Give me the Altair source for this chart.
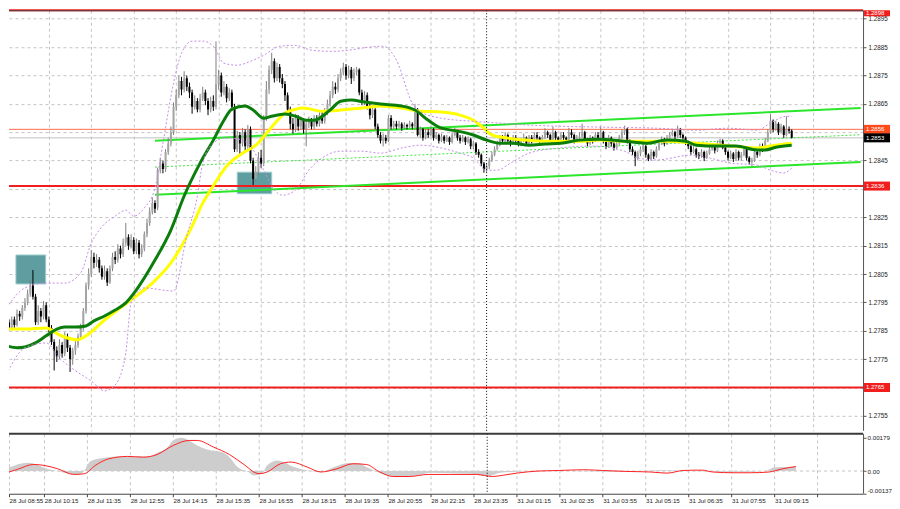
import json
import altair as alt
import pandas as pd

# ---------------- data ----------------
bar_open = [
    1.2787, 1.2788, 1.2786, 1.2789, 1.2787, 1.2791, 1.2790, 1.2793, 1.2795, 1.2798, 1.2801, 1.2797, 1.2788, 1.2792, 1.2790, 1.2794,
    1.2789, 1.2786, 1.2781, 1.2778, 1.2776, 1.2780, 1.2777, 1.2783, 1.2779, 1.2775, 1.2778, 1.2780, 1.2783, 1.2786, 1.2792, 1.2801,
    1.2805, 1.2811, 1.2809, 1.2810, 1.2807, 1.2804, 1.2806, 1.2802, 1.2807, 1.2811, 1.2810, 1.2814, 1.2812, 1.2816, 1.2818, 1.2815,
    1.2817, 1.2813, 1.2816, 1.2812, 1.2814, 1.2819, 1.2823, 1.2827, 1.2830, 1.28285, 1.28416, 1.2844, 1.2842, 1.2848, 1.2851, 1.2855,
    1.2864, 1.2868, 1.2873, 1.2870, 1.2874, 1.2871, 1.2869, 1.2864, 1.2866, 1.2863, 1.2867, 1.2869, 1.2866, 1.2863, 1.2866, 1.2864,
    1.2872, 1.2875, 1.2869, 1.2871, 1.2867, 1.2869, 1.2864, 1.2849, 1.2854, 1.2851, 1.2855, 1.2850, 1.2856, 1.2845, 1.28385, 1.2841,
    1.2846, 1.2844, 1.2860, 1.2870, 1.2877, 1.2880, 1.2874, 1.2878, 1.2874, 1.2872, 1.2868, 1.2863, 1.2858, 1.2856, 1.2860, 1.2857,
    1.2859, 1.2856, 1.2858, 1.2859, 1.2857, 1.2860, 1.2858, 1.2861, 1.2859, 1.2862, 1.2865, 1.2868, 1.2871, 1.2870, 1.2874, 1.2876,
    1.2878, 1.2875, 1.2877, 1.2874, 1.2876, 1.2877, 1.2869, 1.2866, 1.2868, 1.2864, 1.2861, 1.2863, 1.2857, 1.2854, 1.2852, 1.2853,
    1.2852, 1.2860, 1.2857, 1.2858, 1.2857, 1.2858, 1.28565, 1.28575, 1.2857, 1.2858, 1.2857, 1.2863, 1.2854, 1.2856, 1.2853, 1.2855,
    1.2854, 1.2856, 1.2853, 1.2854, 1.2852, 1.28535, 1.2852, 1.2853, 1.28515, 1.2854, 1.2855, 1.2853, 1.2852, 1.2853, 1.28515, 1.28525,
    1.2850, 1.2851, 1.2848, 1.2847, 1.2844, 1.2842, 1.2843, 1.2845, 1.2847, 1.2849, 1.2851, 1.2853, 1.2852, 1.2854, 1.2852, 1.2851,
    1.2853, 1.2852, 1.28505, 1.2852, 1.2853, 1.2851, 1.2853, 1.2852, 1.2854, 1.2853, 1.28515, 1.2853, 1.2855, 1.2854, 1.2852, 1.2855,
    1.2853, 1.2852, 1.2854, 1.2853, 1.2852, 1.2855, 1.2854, 1.2852, 1.2853, 1.28535, 1.2855, 1.2852, 1.2851, 1.2853, 1.2852, 1.2854,
    1.2853, 1.2855, 1.2852, 1.2850, 1.2853, 1.2851, 1.28495, 1.2851, 1.2853, 1.2855, 1.2856, 1.2852, 1.2849, 1.2848, 1.2846, 1.28475,
    1.2849, 1.2850, 1.2847, 1.28455, 1.2848, 1.28465, 1.2849, 1.2851, 1.28525, 1.2851, 1.2853, 1.2854, 1.2855, 1.28535, 1.2856, 1.2854,
    1.2853, 1.28515, 1.2850, 1.2848, 1.2849, 1.2847, 1.28465, 1.2848, 1.2846, 1.28475, 1.2849, 1.2850, 1.28485, 1.2851, 1.2852, 1.28495,
    1.2848, 1.2846, 1.28475, 1.28455, 1.2848, 1.2846, 1.2847, 1.2849, 1.2846, 1.28445, 1.2845, 1.2848, 1.2847, 1.2850, 1.2849, 1.2852,
    1.2855, 1.2859, 1.2856, 1.2858, 1.2855, 1.2857, 1.2854, 1.2856, 1.28555,
]
bar_high = [
    1.27895, 1.2789, 1.2790, 1.2790, 1.27925, 1.2792, 1.2794, 1.27965, 1.27995, 1.2803, 1.28064, 1.2798, 1.2794, 1.2793, 1.27955, 1.2795,
    1.2790, 1.2787, 1.2782, 1.27795, 1.2782, 1.2781, 1.27845, 1.2784, 1.2780, 1.2779, 1.27815, 1.2784, 1.27875, 1.2793, 1.2802, 1.2807,
    1.28135, 1.28125, 1.2812, 1.2811, 1.2808, 1.2808, 1.2807, 1.2808, 1.28125, 1.2813, 1.28155, 1.2815, 1.28175, 1.2823, 1.2819, 1.2819,
    1.2818, 1.28175, 1.2817, 1.28155, 1.2820, 1.28245, 1.28285, 1.2832, 1.2831, 1.28425, 1.2846, 1.2845, 1.2849, 1.2853, 1.2857, 1.28655,
    1.2870, 1.2875, 1.28745, 1.28765, 1.2875, 1.28725, 1.2870, 1.2868, 1.2867, 1.28685, 1.2871, 1.2870, 1.2867, 1.28675, 1.2868, 1.2887,
    1.2877, 1.2876, 1.2873, 1.2872, 1.28705, 1.2870, 1.2865, 1.28555, 1.2855, 1.28565, 1.2856, 1.28575, 1.2857, 1.2846, 1.2843, 1.2848,
    1.28487, 1.2861, 1.2873, 1.28785, 1.2883, 1.2881, 1.28795, 1.2879, 1.28755, 1.2873, 1.2869, 1.2864, 1.2860, 1.28615, 1.2861, 1.28605,
    1.2860, 1.2859, 1.28605, 1.2860, 1.2861, 1.2861, 1.2862, 1.28625, 1.28635, 1.28665, 1.28695, 1.2873, 1.28725, 1.28755, 1.28775, 1.28795,
    1.2879, 1.28785, 1.2878, 1.28775, 1.2878, 1.28775, 1.2870, 1.28695, 1.2869, 1.2865, 1.28645, 1.28635, 1.2858, 1.2855, 1.28545, 1.2854,
    1.2861, 1.2861, 1.2859, 1.2859, 1.2859, 1.28585, 1.28585, 1.2858, 1.2859, 1.28585, 1.2865, 1.28635, 1.2857, 1.28565, 1.2856, 1.2856,
    1.2857, 1.28565, 1.2855, 1.28545, 1.28545, 1.2854, 1.2854, 1.28535, 1.2855, 1.28565, 1.28555, 1.2854, 1.2854, 1.28535, 1.28535, 1.2853,
    1.2852, 1.28515, 1.2849, 1.28475, 1.28445, 1.2844, 1.2846, 1.2848, 1.2850, 1.2852, 1.2854, 1.2854, 1.2855, 1.28545, 1.2853, 1.2854,
    1.2854, 1.28525, 1.2853, 1.28545, 1.28535, 1.2854, 1.2854, 1.2855, 1.2855, 1.28535, 1.2854, 1.28564, 1.28555, 1.28545, 1.2857, 1.28555,
    1.28535, 1.2855, 1.2855, 1.28535, 1.28565, 1.2856, 1.28545, 1.2854, 1.2855, 1.2858, 1.28555, 1.2853, 1.2854, 1.28535, 1.2855, 1.2855,
    1.2857, 1.28555, 1.28525, 1.2854, 1.28535, 1.28515, 1.2852, 1.2854, 1.2856, 1.28573, 1.28565, 1.28525, 1.2850, 1.28485, 1.28485, 1.2850,
    1.2851, 1.28505, 1.28475, 1.2849, 1.28485, 1.2850, 1.2852, 1.28535, 1.2853, 1.2854, 1.2855, 1.2856, 1.28555, 1.28573, 1.28565, 1.28545,
    1.28535, 1.2852, 1.28505, 1.2850, 1.28495, 1.2848, 1.2849, 1.28485, 1.28485, 1.2850, 1.2851, 1.28505, 1.2852, 1.28527, 1.28525, 1.2850,
    1.28485, 1.28485, 1.2848, 1.2849, 1.28485, 1.2848, 1.2850, 1.28495, 1.28465, 1.2846, 1.2849, 1.28485, 1.2851, 1.2851, 1.2853, 1.2856,
    1.28613, 1.28595, 1.2859, 1.28585, 1.2858, 1.28575, 1.28606, 1.2857, 1.2856,
]
bar_low = [
    1.27855, 1.2785, 1.27855, 1.2786, 1.27865, 1.27885, 1.2789, 1.2792, 1.2794, 1.2797, 1.2796, 1.2787, 1.2787, 1.2788, 1.2789, 1.2788,
    1.27845, 1.2780, 1.2771, 1.2774, 1.2775, 1.27755, 1.2776, 1.27775, 1.27705, 1.2773, 1.27765, 1.2779, 1.2782, 1.2785, 1.2791, 1.27995,
    1.2804, 1.2807, 1.28075, 1.28055, 1.2803, 1.2803, 1.28008, 1.28015, 1.2806, 1.28085, 1.2809, 1.28105, 1.2811, 1.2815, 1.28135, 1.2814,
    1.2812, 1.2812, 1.28105, 1.2811, 1.2813, 1.2818, 1.2822, 1.2826, 1.28265, 1.28275, 1.28405, 1.28405, 1.2841, 1.2847, 1.2850, 1.2854,
    1.28625, 1.2867, 1.2868, 1.2869, 1.28695, 1.2867, 1.28615, 1.2863, 1.2862, 1.2862, 1.2866, 1.28645, 1.2861, 1.2862, 1.28625, 1.2863,
    1.2870, 1.28675, 1.2868, 1.28655, 1.2866, 1.28625, 1.2848, 1.2848, 1.28466, 1.2850, 1.28485, 1.2849, 1.2844, 1.28364, 1.28375, 1.2840,
    1.28425, 1.2843, 1.2859, 1.28685, 1.28755, 1.28725, 1.2873, 1.28725, 1.28705, 1.2866, 1.28615, 1.2856, 1.28545, 1.2855, 1.28555, 1.2856,
    1.28545, 1.2850, 1.28565, 1.2856, 1.2856, 1.2857, 1.2857, 1.2858, 1.2858, 1.2861, 1.2864, 1.2867, 1.28685, 1.2869, 1.2873, 1.2875,
    1.28735, 1.2874, 1.2872, 1.2873, 1.2875, 1.2868, 1.28645, 1.28645, 1.2863, 1.28595, 1.2860, 1.2856, 1.2853, 1.2851, 1.2850, 1.2851,
    1.28515, 1.2856, 1.2856, 1.2856, 1.28565, 1.28555, 1.2856, 1.2856, 1.28565, 1.2856, 1.28565, 1.28535, 1.2853, 1.2852, 1.28525, 1.2853,
    1.28535, 1.2852, 1.28525, 1.2851, 1.28515, 1.2851, 1.28515, 1.28505, 1.2851, 1.28535, 1.2852, 1.2851, 1.28515, 1.28505, 1.2851, 1.2849,
    1.2849, 1.2847, 1.2846, 1.2843, 1.28407, 1.2841, 1.2842, 1.28445, 1.28465, 1.28485, 1.2850, 1.2851, 1.28515, 1.2851, 1.2850, 1.28505,
    1.2851, 1.2850, 1.2850, 1.28515, 1.28505, 1.28505, 1.2851, 1.28515, 1.2852, 1.2851, 1.2851, 1.28525, 1.2853, 1.28515, 1.28515, 1.2852,
    1.2851, 1.28515, 1.2852, 1.2851, 1.28515, 1.2853, 1.2851, 1.28515, 1.2852, 1.2853, 1.28515, 1.2850, 1.28505, 1.2851, 1.28515, 1.2852,
    1.28525, 1.2851, 1.2849, 1.28495, 1.2850, 1.28485, 1.2849, 1.28505, 1.28525, 1.2854, 1.2851, 1.2848, 1.2847, 1.2843, 1.2845, 1.28465,
    1.2848, 1.2846, 1.28448, 1.2845, 1.28455, 1.2846, 1.28485, 1.28505, 1.2850, 1.28505, 1.28525, 1.28535, 1.28525, 1.2853, 1.2853, 1.2852,
    1.28505, 1.2849, 1.2847, 1.28475, 1.2846, 1.28455, 1.2846, 1.28448, 1.28455, 1.2847, 1.28485, 1.28475, 1.2848, 1.28505, 1.2849, 1.2847,
    1.2845, 1.28455, 1.28445, 1.2845, 1.2845, 1.2845, 1.28465, 1.2845, 1.28435, 1.2843, 1.28445, 1.2846, 1.28465, 1.2848, 1.28485, 1.28515,
    1.28545, 1.2855, 1.28555, 1.2854, 1.28545, 1.2853, 1.28535, 1.28545, 1.28528,
]
bar_close = [
    1.2788, 1.2786, 1.2789, 1.2787, 1.2791, 1.2790, 1.2793, 1.2795, 1.2798, 1.2801, 1.2797, 1.2788, 1.2792, 1.2790, 1.2794, 1.2789,
    1.2786, 1.2781, 1.2778, 1.2776, 1.2780, 1.2777, 1.2783, 1.2779, 1.2775, 1.2778, 1.2780, 1.2783, 1.2786, 1.2792, 1.2801, 1.2805,
    1.2811, 1.2809, 1.2810, 1.2807, 1.2804, 1.2806, 1.2802, 1.2807, 1.2811, 1.2810, 1.2814, 1.2812, 1.2816, 1.2818, 1.2815, 1.2817,
    1.2813, 1.2816, 1.2812, 1.2814, 1.2819, 1.2823, 1.2827, 1.2830, 1.2828, 1.28416, 1.2844, 1.2842, 1.2848, 1.2851, 1.2855, 1.2864,
    1.2868, 1.2873, 1.2870, 1.2874, 1.2871, 1.2869, 1.2864, 1.2866, 1.2863, 1.2867, 1.2869, 1.2866, 1.2863, 1.2866, 1.2864, 1.2872,
    1.2875, 1.2869, 1.2871, 1.2867, 1.2869, 1.2864, 1.2849, 1.2854, 1.2851, 1.2855, 1.2850, 1.2856, 1.2845, 1.28385, 1.2841, 1.2846,
    1.2844, 1.2860, 1.2870, 1.2877, 1.2880, 1.2874, 1.2878, 1.2874, 1.2872, 1.2868, 1.2863, 1.2858, 1.2856, 1.2860, 1.2857, 1.2859,
    1.2856, 1.2858, 1.2859, 1.2857, 1.2860, 1.2858, 1.2861, 1.2859, 1.2862, 1.2865, 1.2868, 1.2871, 1.2870, 1.2874, 1.2876, 1.2878,
    1.2875, 1.2877, 1.2874, 1.2876, 1.2877, 1.2869, 1.2866, 1.2868, 1.2864, 1.2861, 1.2863, 1.2857, 1.2854, 1.2852, 1.2853, 1.2852,
    1.2860, 1.2857, 1.2858, 1.2857, 1.2858, 1.28565, 1.28575, 1.2857, 1.2858, 1.2857, 1.2863, 1.2854, 1.2856, 1.2853, 1.2855, 1.2854,
    1.2856, 1.2853, 1.2854, 1.2852, 1.28535, 1.2852, 1.2853, 1.28515, 1.2854, 1.2855, 1.2853, 1.2852, 1.2853, 1.28515, 1.28525, 1.2850,
    1.2851, 1.2848, 1.2847, 1.2844, 1.2842, 1.2843, 1.2845, 1.2847, 1.2849, 1.2851, 1.2853, 1.2852, 1.2854, 1.2852, 1.2851, 1.2853,
    1.2852, 1.28505, 1.2852, 1.2853, 1.2851, 1.2853, 1.2852, 1.2854, 1.2853, 1.28515, 1.2853, 1.2855, 1.2854, 1.2852, 1.2855, 1.2853,
    1.2852, 1.2854, 1.2853, 1.2852, 1.2855, 1.2854, 1.2852, 1.2853, 1.28535, 1.2855, 1.2852, 1.2851, 1.2853, 1.2852, 1.2854, 1.2853,
    1.2855, 1.2852, 1.2850, 1.2853, 1.2851, 1.28495, 1.2851, 1.2853, 1.2855, 1.2856, 1.2852, 1.2849, 1.2848, 1.2846, 1.28475, 1.2849,
    1.2850, 1.2847, 1.28455, 1.2848, 1.28465, 1.2849, 1.2851, 1.28525, 1.2851, 1.2853, 1.2854, 1.2855, 1.28535, 1.2856, 1.2854, 1.2853,
    1.28515, 1.2850, 1.2848, 1.2849, 1.2847, 1.28465, 1.2848, 1.2846, 1.28475, 1.2849, 1.2850, 1.28485, 1.2851, 1.2852, 1.28495, 1.2848,
    1.2846, 1.28475, 1.28455, 1.2848, 1.2846, 1.2847, 1.2849, 1.2846, 1.28445, 1.2845, 1.2848, 1.2847, 1.2850, 1.2849, 1.2852, 1.2855,
    1.2859, 1.2856, 1.2858, 1.2855, 1.2857, 1.2854, 1.2856, 1.28555, 1.2853,
]

time_labels = [
    "28 Jul 08:55", "28 Jul 10:15", "28 Jul 11:35", "28 Jul 12:55", "28 Jul 14:15",
    "28 Jul 15:35", "28 Jul 16:55", "28 Jul 18:15", "28 Jul 19:35", "28 Jul 20:55",
    "28 Jul 22:15", "28 Jul 23:35", "31 Jul 01:15", "31 Jul 02:35", "31 Jul 03:55",
    "31 Jul 05:15", "31 Jul 06:35", "31 Jul 07:55", "31 Jul 09:15",
]
label_step = 16  # bars between time labels

ma_green_bar = [0, 4, 7, 11, 15, 19, 22, 26, 30, 33, 37, 41, 45, 49, 56, 62, 67, 73, 78, 82, 85, 90, 93, 97, 100,
                105, 109, 113, 116, 122, 126, 130, 135, 141, 149, 154, 159, 164, 170, 176, 181, 186, 191, 197, 203,
                209, 216, 223, 233, 241, 249, 256, 260, 268, 275, 283, 286, 290, 296]
ma_green = [1.27797, 1.27790, 1.27793, 1.27807, 1.27832, 1.27856, 1.27863, 1.27863, 1.27867, 1.27885, 1.27902,
            1.27923, 1.27948, 1.27994, 1.28099, 1.28205, 1.28325, 1.28441, 1.28522, 1.28592, 1.28631, 1.28642,
            1.28628, 1.28599, 1.28606, 1.28614, 1.28606, 1.28592, 1.28592, 1.28628, 1.28659, 1.28663, 1.28656,
            1.28649, 1.28642, 1.28628, 1.28592, 1.28564, 1.28554, 1.28540, 1.28522, 1.28511, 1.28511, 1.28504,
            1.28508, 1.28511, 1.28522, 1.28525, 1.28518, 1.28511, 1.28522, 1.28518, 1.28504, 1.28501, 1.28501,
            1.28487, 1.28487, 1.28497, 1.28504]

ma_yellow_bar = [0, 7, 15, 20, 27, 30, 37, 47, 55, 62, 70, 74, 77, 83, 89, 94, 99, 105, 109, 112, 119, 126, 134,
                 141, 149, 156, 164, 171, 176, 180, 183, 189, 196, 203, 216, 223, 234, 249, 260, 273, 283, 288, 296]
ma_yellow = [1.27856, 1.27856, 1.27860, 1.27835, 1.27818, 1.27832, 1.27888, 1.27959, 1.28018, 1.28089, 1.28219,
             1.28300, 1.28346, 1.28430, 1.28476, 1.28504, 1.28557, 1.28617, 1.28631, 1.28635, 1.28624, 1.28628,
             1.28635, 1.28642, 1.28635, 1.28624, 1.28621, 1.28610, 1.28592, 1.28564, 1.28540, 1.28529, 1.28522,
             1.28518, 1.28518, 1.28522, 1.28518, 1.28518, 1.28511, 1.28501, 1.28494, 1.28501, 1.28511]

bb_upper_bar = [0, 7, 15, 22, 28, 32, 35, 41, 45, 48, 52, 56, 59, 63, 66, 70, 74, 78, 82, 87, 92, 97, 103, 109,
                115, 123, 129, 136, 142, 147, 153, 155, 164, 175, 186, 197, 208, 223, 245, 260, 272, 283, 288, 294, 296]
bb_upper = [1.27930, 1.28001, 1.28018, 1.28018, 1.28054, 1.28159, 1.28205, 1.28254, 1.28275, 1.28254, 1.28283,
            1.28353, 1.28511, 1.28723, 1.28828, 1.28871, 1.28871, 1.28853, 1.28793, 1.28786, 1.28800, 1.28821,
            1.28853, 1.28856, 1.28839, 1.28835, 1.28839, 1.28849, 1.28853, 1.28804, 1.28652, 1.28628, 1.28599,
            1.28589, 1.28582, 1.28575, 1.28571, 1.28568, 1.28564, 1.28557, 1.28564, 1.28557, 1.28582, 1.28606, 1.28606]

bb_lower_bar = [0, 7, 15, 20, 26, 32, 37, 41, 45, 47, 52, 63, 68, 72, 74, 78, 82, 85, 91, 97, 101, 104, 109, 114,
                119, 126, 134, 141, 149, 156, 164, 171, 176, 181, 185, 190, 197, 208, 221, 233, 238, 245, 258, 265,
                273, 283, 288, 293, 296]
bb_lower = [1.27695, 1.27790, 1.27807, 1.27754, 1.27709, 1.27673, 1.27638, 1.27659, 1.27772, 1.27948, 1.28001,
            1.27990, 1.28184, 1.28325, 1.28441, 1.28511, 1.28529, 1.28529, 1.28511, 1.28416, 1.28346, 1.28328,
            1.28346, 1.28416, 1.28459, 1.28483, 1.28483, 1.28476, 1.28494, 1.28504, 1.28494, 1.28476, 1.28459,
            1.28416, 1.28416, 1.28441, 1.28476, 1.28494, 1.28501, 1.28483, 1.28459, 1.28452, 1.28469, 1.28459,
            1.28441, 1.28434, 1.28416, 1.28406, 1.28423]

level_prices = [1.2898, 1.2836, 1.2765]
ask_price = 1.2856
bid_price = 1.2853

trend_bars = [56, 322]
trend_upper = [1.28520, 1.28635]
trend_lower = [1.28329, 1.28445]
trend_mid = [1.28427, 1.28541]

zone_bar_from = [3.6, 87.0]
zone_bar_to = [14.8, 100.0]
zone_low = [1.28015, 1.28333]
zone_high = [1.28117, 1.28409]

day_break_bar = 181

macd_hist_bar = [0, 4, 7, 10, 14, 17, 21, 25, 29, 31, 33, 36, 40, 43, 49, 55, 58, 62, 64, 67, 70, 73, 77, 82, 85,
                 88, 92, 94, 97, 99, 103, 105, 109, 114, 119, 124, 129, 133, 136, 140, 144, 149, 155, 160, 167,
                 175, 181, 186, 192, 201, 216, 231, 245, 260, 275, 285, 288, 296]
macd_hist = [0.00012, 0.00024, 0.00039, 0.00044, 0.00030, 0.00012, 0.0, -0.00014, -0.00018, 0.00003, 0.00049,
             0.00065, 0.00074, 0.00078, 0.00078, 0.00078, 0.00096, 0.00128, 0.00163, 0.00177, 0.00163, 0.00136,
             0.00113, 0.00101, 0.00074, 0.00021, -0.00005, -0.00023, -0.00014, 0.00030, 0.00056, 0.00048, 0.00021,
             0.00003, -0.00005, 0.00021, 0.00043, 0.00043, 0.00021, -0.00005, -0.00023, -0.00029, -0.00023,
             -0.00009, -0.00011, -0.00014, -0.00028, -0.00009, -0.00004, 0.00002, -0.00001, -0.00003, 0.00004,
             -0.00001, -0.00004, 0.00002, 0.00020, 0.00023]
macd_signal_bar = [0, 6, 12, 16, 21, 27, 31, 35, 40, 47, 53, 58, 64, 70, 73, 79, 85, 90, 96, 99, 104, 108, 114,
                   119, 125, 131, 136, 141, 146, 152, 159, 167, 177, 183, 187, 192, 200, 208, 217, 224, 233, 242,
                   248, 254, 261, 265, 273, 279, 286, 291, 296]
macd_signal = [-0.00018, 0.00009, 0.00035, 0.00030, 0.00012, -0.00018, -0.00014, 0.00030, 0.00065, 0.00078,
               0.00074, 0.00088, 0.00136, 0.00163, 0.00163, 0.00128, 0.00088, 0.00039, -0.00014, -0.00005, 0.00039,
               0.00048, 0.00021, -0.00005, 0.00012, 0.00039, 0.00035, -0.00005, -0.00029, -0.00029, -0.00018,
               -0.00018, -0.00018, -0.00029, -0.00022, -0.00011, 0.0, 0.00003, 0.00007, 0.00003, -0.00002, -0.00005,
               -0.00011, 0.00003, 0.00005, -0.00005, -0.00009, -0.00009, -0.00005, 0.00012, 0.00024]

price_ticks = [1.2755, 1.2765, 1.2775, 1.2785, 1.2795, 1.2805, 1.2815, 1.2825, 1.2835, 1.2845,
               1.2855, 1.2865, 1.2875, 1.2885, 1.2895]
hidden_price_labels = [1.2765, 1.2835, 1.2855]   # covered by the level boxes in the reference
macd_tick_labels = ["0.00179", "0.00", "-0.00137"]

# ---------------- layout / style ----------------
W = 855
H_MAIN = 421
H_MACD = 60
X_DOMAIN = [2.865, 321.0]
Y_DOMAIN = [1.274973, 1.289797]
M_DOMAIN = [-0.001207, 0.001984]
PX = 1 / 28400           # one pixel of the price scale, in price units
BOX_H = 9 * PX           # height of a price box
TOP_BOX_H = 6 * PX       # the box squeezed against the top edge
macd_tick_values = [0.00179, 0.0, M_DOMAIN[0]]
FONT = "Liberation Sans"
GRID = "#c4c4c4"
BULL = "#a4a4a4"
BULL_WICK = "#808080"
BEAR = "#000000"

grid_bars = [label_step * k for k in range(1, 20)]

x_scale = alt.Scale(domain=X_DOMAIN, nice=False, zero=False)
y_scale = alt.Scale(domain=Y_DOMAIN, nice=False, zero=False)
m_scale = alt.Scale(domain=M_DOMAIN, nice=False, zero=False)

hide_test = " || ".join(f"abs(datum.value - {v}) < 0.00001" for v in hidden_price_labels)
x_axis_main = alt.Axis(values=grid_bars, labels=False, ticks=False, domain=False, title=None,
                       grid=True, gridColor=GRID, gridDash=[3, 3], gridWidth=1)
y_axis_main = alt.Axis(orient="right", values=price_ticks,
                       labelExpr=f"({hide_test}) ? '' : format(datum.value, '.4f')",
                       title=None, domain=False,
                       tickSize=3, tickColor="#555555", labelFontSize=6.3, labelColor="#222222",
                       labelFont=FONT, labelPadding=2, grid=True, gridColor=GRID, gridDash=[3, 3],
                       labelOverlap=False, zindex=0)

label_expr = (f"datum.value > {label_step * len(time_labels) - 8} ? '' : "
              f"{json.dumps(time_labels)}[round(datum.value / {label_step})]")
x_axis_macd = alt.Axis(values=[2.9] + grid_bars, labelExpr=label_expr, labelAlign="left", labelAngle=0,
                       labelFontSize=6.2, labelFont=FONT, labelColor="#222222", labelPadding=1,
                       labelFlush=False, labelOverlap=False, tickSize=3, tickColor="#444444",
                       domain=True, domainColor="#444444", title=None, grid=True, gridColor=GRID,
                       gridDash=[3, 3])
y_axis_macd = alt.Axis(orient="right", values=macd_tick_values,
                       labelExpr=(f"datum.value > 0.001 ? '{macd_tick_labels[0]}' : "
                                  f"datum.value < -0.001 ? '{macd_tick_labels[2]}' : '{macd_tick_labels[1]}'"),
                       title=None, domain=False, tickSize=3, tickColor="#555555", labelFontSize=6.2,
                       labelColor="#222222", labelFont=FONT, labelPadding=1, grid=False,
                       labelFlush=True, labelOverlap=False)


def xm(f):
    return alt.X(f"{f}:Q", scale=x_scale, axis=x_axis_main)


def ym(f):
    return alt.Y(f"{f}:Q", scale=y_scale, axis=y_axis_main)


def xk(f):
    return alt.X(f"{f}:Q", scale=x_scale, axis=x_axis_macd)


def yk(f):
    return alt.Y(f"{f}:Q", scale=m_scale, axis=y_axis_macd)


# ---------------- tables ----------------
candles = pd.DataFrame({"i": list(range(len(bar_close))), "o": bar_open, "h": bar_high,
                        "l": bar_low, "c": bar_close})
green_df = pd.DataFrame({"bar": ma_green_bar, "p": ma_green})
yellow_df = pd.DataFrame({"bar": ma_yellow_bar, "p": ma_yellow})
bbu_df = pd.DataFrame({"bar": bb_upper_bar, "p": bb_upper})
bbl_df = pd.DataFrame({"bar": bb_lower_bar, "p": bb_lower})
levels_df = pd.DataFrame({"p": level_prices})
ask_df = pd.DataFrame({"p": [ask_price]})
bid_df = pd.DataFrame({"p": [bid_price]})
trend_df = pd.DataFrame({
    "bar": trend_bars * 2,
    "p": trend_upper + trend_lower,
    "line": ["upper"] * 2 + ["lower"] * 2,
})
trend_mid_df = pd.DataFrame({"bar": trend_bars, "p": trend_mid})
zones_df = pd.DataFrame({"b1": zone_bar_from, "b2": zone_bar_to, "p1": zone_low, "p2": zone_high})
day_df = pd.DataFrame({"bar": [day_break_bar]})
box_df = pd.DataFrame({
    "p": level_prices[:1] + [ask_price, bid_price] + level_prices[1:],
    "fill": ["#f21d1d", "#ff4a1c", "#000000", "#f21d1d", "#f21d1d"],
})
box_df["label"] = box_df["p"].map(lambda v: f"{v:.4f}")
# keep every box inside the plot's top edge so nothing pushes the layout down
box_df["hi"] = (box_df["p"] + BOX_H / 2).clip(upper=Y_DOMAIN[1])
box_df["lo"] = box_df["p"] - BOX_H / 2
at_top = box_df["hi"] >= Y_DOMAIN[1]
box_df.loc[at_top, "lo"] = Y_DOMAIN[1] - TOP_BOX_H
box_df["mid"] = (box_df["hi"] + box_df["lo"]) / 2

hist_df = pd.DataFrame({"bar": macd_hist_bar, "v": macd_hist})
hist_df["zero"] = 0.0
sig_df = pd.DataFrame({"bar": macd_signal_bar, "v": macd_signal})
zero_df = pd.DataFrame({"v": [0.0]})

cond_body = alt.condition("datum.c >= datum.o", alt.value(BULL), alt.value(BEAR))
cond_wick = alt.condition("datum.c >= datum.o", alt.value(BULL_WICK), alt.value(BEAR))

# ---------------- main price panel ----------------
zones = alt.Chart(zones_df).mark_rect(color="#5f9ea0", stroke="#9ccccc", strokeWidth=1).encode(
    x=xm("b1"), x2="b2", y=ym("p1"), y2="p2")
levels = alt.Chart(levels_df).mark_rule(color="#f21d1d", strokeWidth=2).encode(y=ym("p"))
ask_line = alt.Chart(ask_df).mark_rule(color="#ff6a4a", strokeWidth=1).encode(y=ym("p"))
bid_line = alt.Chart(bid_df).mark_rule(color="#c0c0c0", strokeWidth=1).encode(y=ym("p"))
trend = alt.Chart(trend_df).mark_line(color="#2be62b", strokeWidth=2, clip=True).encode(
    x=xm("bar"), y=ym("p"), detail="line:N")
trend_mid_line = alt.Chart(trend_mid_df).mark_line(color="#3ee63e", strokeWidth=1, strokeDash=[2, 2],
                                                   clip=True).encode(x=xm("bar"), y=ym("p"))
wicks = alt.Chart(candles).mark_rule(strokeWidth=1, clip=True).encode(
    x=xm("i"), y=ym("l"), y2="h", color=cond_wick)
bodies = alt.Chart(candles).mark_bar(width=2, clip=True).encode(
    x=xm("i"), y=ym("o"), y2="c", color=cond_body)
yellow = alt.Chart(yellow_df).mark_line(color="#ffff00", strokeWidth=3, interpolate="monotone", clip=True).encode(
    x=xm("bar"), y=ym("p"))
green = alt.Chart(green_df).mark_line(color="#0b7d0b", strokeWidth=3, interpolate="monotone", clip=True).encode(
    x=xm("bar"), y=ym("p"))
bb_u = alt.Chart(bbu_df).mark_line(color="#c58de6", strokeWidth=1, strokeDash=[2, 2], interpolate="monotone",
                                   clip=True).encode(x=xm("bar"), y=ym("p"))
bb_l = alt.Chart(bbl_df).mark_line(color="#c58de6", strokeWidth=1, strokeDash=[2, 2], interpolate="monotone",
                                   clip=True).encode(x=xm("bar"), y=ym("p"))
day_main = alt.Chart(day_df).mark_rule(color="#000000", strokeWidth=1, strokeDash=[1, 2]).encode(x=xm("bar"))
top_border = alt.Chart(day_df).mark_rule(color="#444444", strokeWidth=1).encode(
    x=alt.value(0), x2=alt.value(W), y=alt.value(0.5))
right_border = alt.Chart(day_df).mark_rule(color="#555555", strokeWidth=1).encode(
    x=alt.value(W + 0.5), y=alt.value(0), y2=alt.value(H_MAIN))
boxes = alt.Chart(box_df).mark_rect(clip=False).encode(
    x=alt.value(W + 1), x2=alt.value(W + 27), y=ym("lo"), y2="hi",
    color=alt.Color("fill:N", scale=None))
box_text = alt.Chart(box_df).mark_text(align="left", baseline="middle", fontSize=6, font=FONT,
                                       color="#ffffff", clip=False).encode(
    x=alt.value(W + 3), y=ym("mid"), text="label:N")

main = alt.layer(zones, levels, ask_line, bid_line, trend, trend_mid_line, wicks, bodies, yellow, green,
                 bb_u, bb_l, day_main, top_border, right_border, boxes, box_text).properties(
    width=W, height=H_MAIN)

# ---------------- MACD panel ----------------
zero_line = alt.Chart(zero_df).mark_rule(color=GRID, strokeDash=[3, 3]).encode(y=yk("v"))
hist = alt.Chart(hist_df).mark_area(color="#cdcdcd", interpolate="monotone", clip=True).encode(
    x=xk("bar"), y=yk("v"), y2="zero")
signal = alt.Chart(sig_df).mark_line(color="#ff2020", strokeWidth=1, interpolate="monotone", clip=True).encode(
    x=xk("bar"), y=yk("v"))
day_macd = alt.Chart(day_df).mark_rule(color="#000000", strokeWidth=1, strokeDash=[1, 2]).encode(x=xk("bar"))
sep = alt.Chart(day_df).mark_rule(color="#3a3a3a", strokeWidth=2).encode(
    x=alt.value(0), x2=alt.value(W), y=alt.value(0))
right_border2 = alt.Chart(day_df).mark_rule(color="#555555", strokeWidth=1).encode(
    x=alt.value(W + 0.5), y=alt.value(0), y2=alt.value(H_MACD))

macd = alt.layer(zero_line, hist, signal, day_macd, sep, right_border2).properties(width=W, height=H_MACD)

chart = alt.vconcat(main, macd, spacing=1).properties(
    padding=0, background="#ffffff"
).configure_view(stroke=None)

chart.save("out.html", embed_options={"renderer": "svg", "actions": False})
